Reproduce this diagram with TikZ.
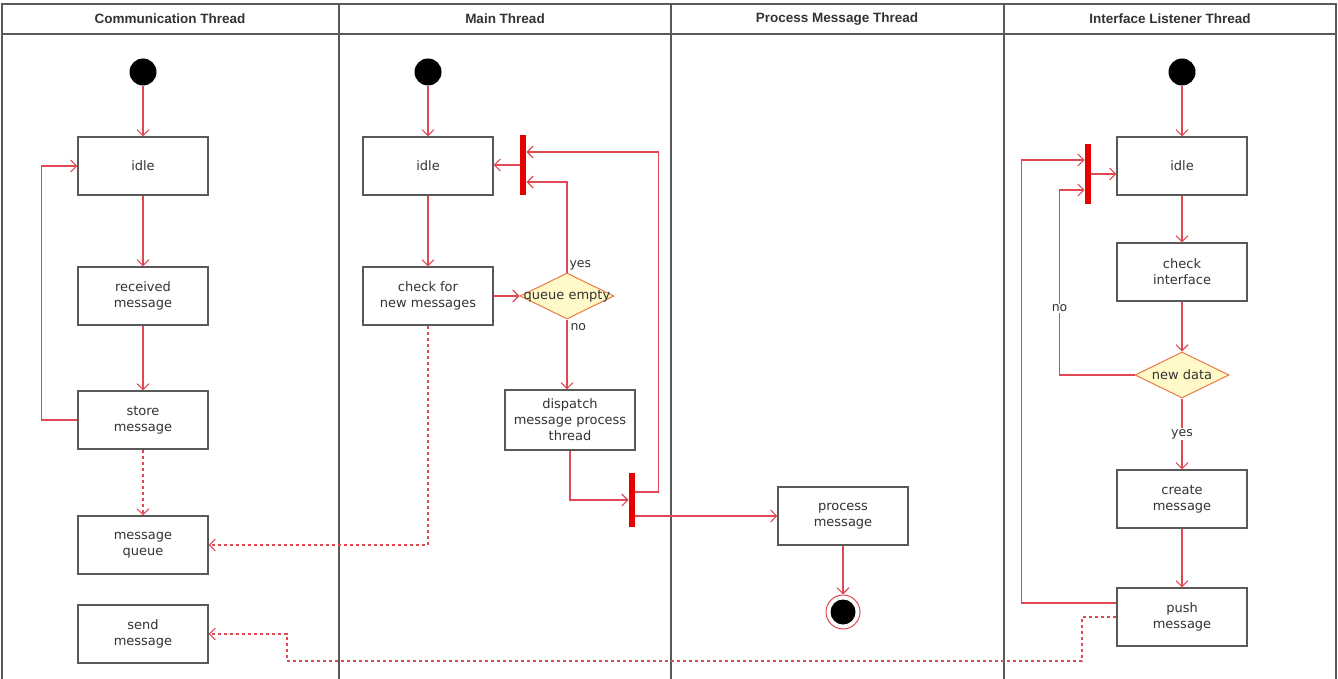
\documentclass[tikz,border=0pt]{standalone}
\usepackage{fontspec}
\setmainfont{DejaVu Sans}
\newfontfamily\headfont{Liberation Sans}
\usetikzlibrary{arrows.meta,shapes.geometric,positioning}

\definecolor{flowred}{RGB}{226,72,82}
\definecolor{barred}{RGB}{230,0,0}
\definecolor{decfill}{RGB}{255,250,200}
\definecolor{decline}{RGB}{236,120,70}

\tikzset{
    lane/.style={draw=black!65, line width=1.4pt},
    head/.style={font=\headfont\bfseries\fontsize{13.5}{16}\selectfont, text=black!80},
    act/.style={draw=black!65, fill=white, line width=1.1pt, minimum width=130pt,
        minimum height=58pt, align=center, text=black!80,
        font=\fontsize{13}{16}\selectfont},
    start/.style={circle, fill=black, minimum size=27pt, inner sep=0pt},
    stop/.style={circle, draw=flowred, fill=white, line width=1pt, minimum size=34pt,
        inner sep=0pt, path picture={\fill[black] (path picture bounding box.center) circle (12.5pt);}},
    decision/.style={diamond, aspect=2, draw=decline, fill=decfill, line width=1pt,
        minimum width=94pt, minimum height=46pt, inner sep=0pt},
    bar/.style={rectangle, fill=barred, minimum width=6.5pt, minimum height=60pt, inner sep=0pt},
    flow/.style={draw=flowred, line width=1.1pt, -{Straight Barb[length=6pt,width=12pt]}},
    dep/.style={flow, dash pattern=on 3pt off 3pt},
    guard/.style={font=\fontsize{12.5}{14}\selectfont, text=black!80},
}

\begin{document}
\begin{tikzpicture}[x=1pt, y=-1pt]
    \useasboundingbox (0,0) rectangle (1338,679);

    % Swimlanes
    \draw[lane] (2,679) -- (2,4) -- (1336,4) -- (1336,679);
    \draw[lane] (2,34) -- (1336,34);
    \foreach \x in {339,671,1004}
        \draw[lane] (\x,4) -- (\x,679);

    \node[head] (hcomm) at (170,19) {Communication Thread};
    \node[head] (hmain) at (505,19) {Main Thread};
    \node[head] (hproc) at (837,19) {Process Message Thread};
    \node[head] (hintf) at (1170,19) {Interface Listener Thread};

    % Communication thread
    \node[start] (s1) at (143,72) {};
    \node[act] (idle1) at (143,166) {idle};
    \node[act] (recv) at (143,296) {received\\message};
    \node[act] (store) at (143,420) {store\\message};
    \node[act] (queue) at (143,545) {message\\queue};
    \node[act] (send) at (143,634) {send\\message};

    % Main thread
    \node[start] (s2) at (428,72) {};
    \node[act] (idle2) at (428,166) {idle};
    \node[act] (check) at (428,296) {check for\\new messages};
    \node[decision, label={[guard, font=\fontsize{13}{14}\selectfont]center:queue empty}] (empty) at (567,296) {};
    \node[bar] (fork1) at (523,165) {};
    \node[act, minimum height=60pt] (dispatch) at (570,420) {dispatch\\message process\\thread};
    \node[bar, minimum height=54pt] (fork2) at (632,500) {};

    % Process message thread
    \node[act] (proc) at (843,516) {process\\message};
    \node[stop] (end) at (843,612) {};

    % Interface listener thread
    \node[start] (s4) at (1182,72) {};
    \node[act] (idle4) at (1182,166) {idle};
    \node[bar] (fork3) at (1088,174) {};
    \node[act] (checkif) at (1182,272) {check\\interface};
    \node[decision, label={[guard, font=\fontsize{13}{14}\selectfont]center:new data}] (newdata) at (1182,375) {};
    \node[act] (create) at (1182,499) {create\\message};
    \node[act] (push) at (1182,617) {push\\message};

    % Flows
    \draw[flow] (s1) -- (idle1);
    \draw[flow] (idle1) -- (recv);
    \draw[flow] (recv) -- (store);
    \draw[flow] (store.west) -- ++(-36,0) |- (idle1.west);
    \draw[dep] (store) -- (queue);

    \draw[flow] (s2) -- (idle2);
    \draw[flow] (fork1.west) -- (idle2.east |- fork1.west);
    \draw[flow] (idle2) -- (check);
    \draw[flow] (check) -- (empty);
    \draw[flow] (empty.north) node[guard, anchor=south west, inner sep=2pt] {yes}
        |- ([yshift=-17pt]fork1.east);
    \draw[flow] (empty.south) node[guard, anchor=north west, inner sep=3pt] {no}
        -- (empty.south |- dispatch.north);
    \draw[flow] (dispatch.south) |- (fork2.west);
    \draw[flow] ([yshift=8pt]fork2.east) -- ++(23,0) |- ([yshift=13pt]fork1.east);
    \draw[flow] ([yshift=-16pt]fork2.east) -- (proc.west);
    \draw[dep] (check.south) |- (queue.east);

    \draw[flow] (proc) -- (end);

    \draw[flow] (s4) -- (idle4);
    \draw[flow] (fork3.east) -- (idle4.west |- fork3.east);
    \draw[flow] (idle4) -- (checkif);
    \draw[flow] (checkif) -- (newdata);
    \draw[flow] (newdata.west) -| node[guard, pos=0.68, fill=white, inner sep=1pt] {no}
        ([xshift=-25pt, yshift=-16pt]fork3.west) -- ([yshift=-16pt]fork3.west);
    \draw[flow] (newdata.south) -- node[guard, fill=white, inner sep=1pt] {yes} (create);
    \draw[flow] (create) -- (push);
    \draw[flow] ([yshift=14pt]push.west) -- ++(-95,0) |- ([yshift=14pt]fork3.west);

    % Outgoing message
    \coordinate (sendturn) at (287,661);
    \draw[dep] (push.west) -| (1082,661) -- (sendturn) |- (send.east);

\end{tikzpicture}
\end{document}
